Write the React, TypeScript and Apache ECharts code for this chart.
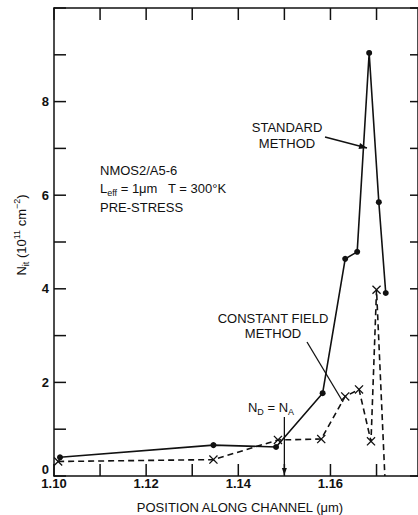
import React, { useEffect, useRef } from "react";
import * as echarts from "echarts";

// Position along channel (µm) and N_it (10^11 cm^-2)
const stdX = [1.1013, 1.1346, 1.1482, 1.1583, 1.1632, 1.1658, 1.1684, 1.1705, 1.172];
const stdY = [0.4, 0.66, 0.62, 1.77, 4.64, 4.79, 9.04, 5.85, 3.91];
const cfX = [1.1009, 1.1346, 1.1486, 1.158, 1.1632, 1.1662, 1.1688, 1.17, 1.1718];
const cfY = [0.31, 0.35, 0.77, 0.79, 1.7, 1.85, 0.74, 3.98, 0];

const xTickLabels = ["1.10", "1.12", "1.14", "1.16"];
const yTickLabels = ["0", "2", "4", "6", "8"];
const xTickValues = [1.1, 1.11, 1.12, 1.13, 1.14, 1.15, 1.16, 1.17];
const yTickValues = [0, 1, 2, 3, 4, 5, 6, 7, 8, 9, 10];

// x axis is run in thousandths of a µm so its ticks are whole numbers
const XS = 1000;

const INK = "#111";
const FONT = "Liberation Sans, Arial, sans-serif";
const CROSS = "path://M0,1L1,0L5,4L9,0L10,1L6,5L10,9L9,10L5,6L1,10L0,9L4,5Z";

function arrowHead(x1: number, y1: number, x2: number, y2: number, len = 8, half = 3) {
  const a = Math.atan2(y2 - y1, x2 - x1);
  const bx = x2 - len * Math.cos(a);
  const by = y2 - len * Math.sin(a);
  const px = -Math.sin(a) * half;
  const py = Math.cos(a) * half;
  return {
    type: "polygon",
    shape: { points: [[x2, y2], [bx + px, by + py], [bx - px, by - py]] },
    style: { fill: INK },
    silent: true,
  };
}

const richBase = {
  b: { fontSize: 13, fontFamily: FONT, lineHeight: 18, verticalAlign: "middle", fill: INK },
  sub: { fontSize: 9, fontFamily: FONT, lineHeight: 10, verticalAlign: "bottom", fill: INK },
  sup: { fontSize: 9, fontFamily: FONT, lineHeight: 10, verticalAlign: "top", fill: INK },
};

function txt(text: string, x: number, y: number, align = "left") {
  return {
    type: "text",
    x,
    y,
    style: { text, font: `13px ${FONT}`, fill: INK, align, verticalAlign: "middle" },
    silent: true,
  };
}

function seg(x1: number, y1: number, x2: number, y2: number, w = 1.5) {
  return { type: "line", shape: { x1, y1, x2, y2 }, style: { stroke: INK, lineWidth: w }, silent: true };
}

function tickRect(x: number, y: number, width: number, height: number) {
  return { type: "rect", z: 50, shape: { x, y, width, height }, style: { fill: INK }, silent: true };
}

export default function App() {
  const ref = useRef<HTMLDivElement>(null);
  useEffect(() => {
    if (!ref.current) return;
    const chart = echarts.init(ref.current, null, { renderer: "svg" });
    const xFmt = (v: number) => {
      const s = (Math.round(v) / XS).toFixed(2);
      return xTickLabels.includes(s) && Math.round(v) % 20 === 0 ? s : "";
    };
    const yFmt = (v: number) => {
      const s = String(Math.round(v));
      if (!(yTickLabels.includes(s) && Math.abs(v - Math.round(v)) < 1e-6)) return "";
      return s === "0" ? "{z|0}" : s;
    };
    const axisLine = { show: true, onZero: false, lineStyle: { color: INK, width: 1.5 } };
    const noTick = { show: false };
    const xBase = { type: "value", min: 1100, max: 1179, interval: 10, axisLine, axisTick: noTick, splitLine: { show: false } };
    chart.setOption({
      animation: false,
      backgroundColor: "#fff",
      grid: { left: 54, right: -3, top: 8, bottom: 39, containLabel: false },
      xAxis: [
        {
          ...xBase,
          position: "bottom",
          axisLabel: { formatter: xFmt, color: INK, fontFamily: FONT, fontSize: 13, fontWeight: "bold", margin: 1, showMaxLabel: false },
        },
        { ...xBase, position: "top", axisLabel: { show: false } },
      ],
      yAxis: [
        {
          type: "value",
          position: "left",
          min: 0,
          max: 10,
          interval: 1,
          axisLine,
          axisTick: noTick,
          axisLabel: {
            formatter: yFmt,
            color: INK,
            fontFamily: FONT,
            fontSize: 13,
            fontWeight: "bold",
            margin: 5,
            rich: { z: { fontFamily: FONT, fontSize: 13, fontWeight: "bold", color: INK, padding: [0, 0, 14, 0] } },
          },
          splitLine: { show: false },
        },
        {
          type: "value",
          position: "right",
          min: 0,
          max: 10,
          interval: 1,
          axisLine,
          axisTick: noTick,
          axisLabel: { show: false },
          splitLine: { show: false },
        },
      ],
      series: [
        {
          name: "Standard method",
          type: "line",
          data: stdX.map((x, i) => [x * XS, stdY[i]]),
          symbol: "circle",
          symbolSize: 6,
          showSymbol: true,
          lineStyle: { color: INK, width: 1.6 },
          itemStyle: { color: INK },
          z: 3,
        },
        {
          name: "Constant field method",
          type: "line",
          data: cfX.map((x, i) =>
            cfY[i] === 0 ? { value: [x * XS, cfY[i]], symbol: "none" } : [x * XS, cfY[i]]
          ),
          symbol: CROSS,
          symbolSize: 9,
          showSymbol: true,
          lineStyle: { color: INK, width: 1.6, type: [6, 4] },
          itemStyle: { color: INK },
          z: 4,
        },
      ],
    });

    // inward ticks on all four sides, placed through the axes' own scales
    const px = (v: number) => Number(chart.convertToPixel({ xAxisIndex: 0 }, v * XS));
    const py = (v: number) => Number(chart.convertToPixel({ yAxisIndex: 0 }, v));
    const bottom = py(0);
    const top = py(10);
    const left = px(1.1);
    const right = Number(chart.convertToPixel({ xAxisIndex: 0 }, 1179));
    const ticks: any[] = [];
    xTickValues.forEach((v) => {
      const x = px(v);
      ticks.push(tickRect(x - 0.75, bottom - 12, 1.5, 12));
      ticks.push(tickRect(x - 0.75, top, 1.5, 12));
    });
    yTickValues.forEach((v) => {
      const y = py(v);
      ticks.push(tickRect(left, y - 0.75, 12, 1.5));
      ticks.push(tickRect(right - 8, y - 0.75, 8, 1.5));
    });

    const ndx = px(1.15);
    chart.setOption({
      graphic: [
        ...ticks,
        txt("NMOS2/A5-6", 100, 170),
        {
          type: "text",
          x: 100,
          y: 188,
          style: {
            text: "{b|L}{sub|eff}{b| = 1μm   T = 300°K}",
            rich: richBase,
            verticalAlign: "middle",
          },
          silent: true,
        },
        txt("PRE-STRESS", 100, 207),
        txt("STANDARD", 287, 127, "center"),
        txt("METHOD", 287, 143, "center"),
        seg(325, 137, 367, 148),
        arrowHead(325, 137, 367, 148),
        txt("CONSTANT FIELD", 273, 318, "center"),
        txt("METHOD", 273, 333, "center"),
        seg(307, 342, 343, 402, 1.3),
        {
          type: "text",
          x: 271,
          y: 407,
          style: {
            text: "{b|N}{sub|D}{b| = N}{sub|A}",
            rich: richBase,
            align: "center",
            verticalAlign: "middle",
          },
          silent: true,
        },
        seg(ndx, 417, ndx, bottom - 1, 1.3),
        arrowHead(ndx, 417, ndx, bottom - 1, 7, 2.5),
        {
          type: "text",
          x: 21,
          y: 235,
          rotation: Math.PI / 2,
          style: {
            text: "{b|N}{sub|it}{b| (10}{sup|11}{b| cm}{sup|−2}{b|)}",
            rich: richBase,
            align: "center",
            verticalAlign: "middle",
          },
          silent: true,
        },
        {
          type: "text",
          x: 240,
          y: 507,
          style: {
            text: "POSITION ALONG CHANNEL (μm)",
            font: `13px ${FONT}`,
            fill: INK,
            align: "center",
            verticalAlign: "middle",
          },
          silent: true,
        },
      ],
    });
    return () => chart.dispose();
  }, []);
  return (
    <div
      ref={ref}
      style={{ position: "fixed", left: 0, top: 0, width: 418, height: 515, background: "#fff" }}
    />
  );
}
